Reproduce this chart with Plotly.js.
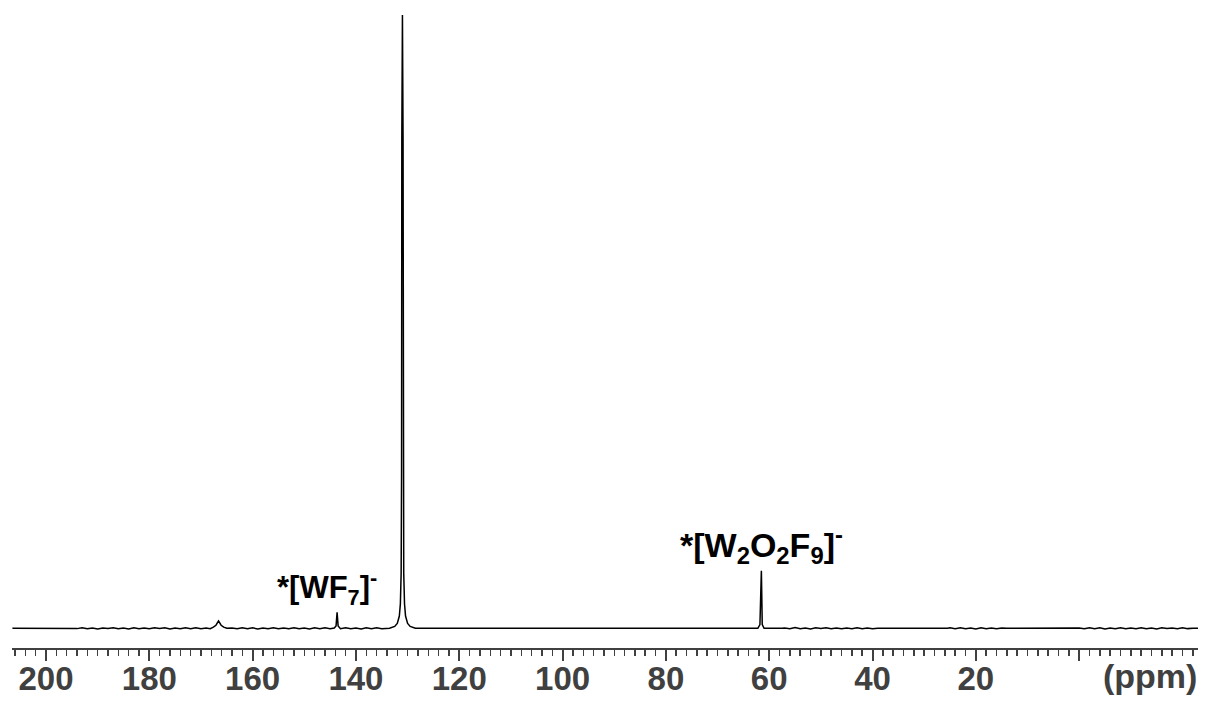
<!DOCTYPE html>
<html>
<head>
<meta charset="utf-8">
<script src="https://cdn.plot.ly/plotly-3.0.1.min.js"></script>
<style>html,body{margin:0;padding:0;background:#fff;}#chart{width:1207px;height:702px;}</style>
</head>
<body>
<div id="chart"></div>
<script>
// Chemical shift (ppm) and relative intensity
const ppm = [
  206.5, 196,
  195, 194, 193, 192, 191, 190, 189, 188, 187, 186, 185, 184, 183, 182, 181, 180,
  179, 178, 177, 176, 175, 174, 173, 172, 171, 170, 169, 168.2,
  167.6, 167.1, 166.6, 166.1, 165.6, 165.0,
  164, 163, 162, 161, 160, 159, 158, 157, 156, 155, 154, 153, 152, 151, 150, 149,
  148, 147, 146, 145, 144.2,
  143.85, 143.65, 143.45,
  143, 142, 141, 140, 139, 138, 137, 136, 135, 134, 133.5,
  132.5, 132.0, 131.6, 131.4, 131.25, 131.17, 131.12, 131.0, 130.88, 130.83, 130.75,
  130.6, 130.4, 130.0, 129.5, 128.5,
  62.2, 61.8, 61.62, 61.52, 61.35, 61.0,
  57.5, 57, 56, 55, 54, 53, 52, 51, 50, 49, 48, 47, 46, 45, 44, 43, 42, 41, 40, 39,
  25.5, 25, 24, 23, 22, 21, 20, 19, 18, 17, 16, 15, 14,
  1, 0, -1, -2, -3, -4, -5, -6, -7, -8, -9, -10, -11, -12, -13, -14, -15, -16, -17,
  -18, -19, -20, -21, -22, -23.5
];
const intensity = [
  0, 0,
  0.0007, -0.0005, 0.0009, -0.0007, 0.0004, -0.0009, 0.0006, -0.0004, 0.0010, -0.0006, 0.0005, -0.0010, 0.0008, -0.0005, 0.0006, -0.0008,
  0.0009, -0.0004, 0.0007, -0.0010, 0.0005, -0.0006, 0.0008, -0.0005, 0.0010, -0.0007, 0.0006, -0.0005,
  0.002, 0.005, 0.012, 0.005, 0.002, 0,
  0.0006, -0.0008, 0.0010, -0.0005, 0.0007, -0.0009, 0.0005, -0.0006, 0.0009, -0.0007, 0.0006, -0.0005, 0.0010, -0.0008, 0.0004, -0.0009,
  0.0007, -0.0006, 0.0008, -0.0005, 0.0004,
  0.004, 0.026, 0.004,
  -0.0006, 0.0009, -0.0007, 0.0006, -0.0010, 0.0008, -0.0005, 0.0007, -0.0006, 0.0004, 0,
  0.003, 0.008, 0.02, 0.04, 0.09, 0.25, 0.8, 1.0, 0.8, 0.25, 0.09,
  0.04, 0.02, 0.008, 0.003, 0,
  0, 0.006, 0.094, 0.094, 0.006, 0,
  0, 0.0006, -0.0005, 0.0012, -0.0007, 0.0005, -0.0009, 0.0007, -0.0004, 0.0010, -0.0006, 0.0005, -0.0008, 0.0006, -0.0005, 0.0009, -0.0007, 0.0004, -0.0006, 0,
  0, 0.0007, -0.0005, 0.0009, -0.0006, 0.0005, -0.0010, 0.0007, -0.0005, 0.0006, -0.0008, 0.0004, 0,
  0, 0.0006, -0.0007, 0.0010, -0.0005, 0.0008, -0.0009, 0.0005, -0.0006, 0.0009, -0.0007, 0.0006, -0.0005, 0.0010, -0.0008, 0.0005, -0.0009, 0.0007, -0.0004,
  0.0006, -0.0007, 0.0008, -0.0005, 0.0003, 0
];

// Axis tick labels
const tickValues = [200, 180, 160, 140, 120, 100, 80, 60, 40, 20, 0];
const tickLabels = ['200', '180', '160', '140', '120', '100', '80', '60', '40', '20', ''];

// Peak annotations
const labelTexts = ['*[WF<sub>7</sub>]<sup>-</sup>', '*[W<sub>2</sub>O<sub>2</sub>F<sub>9</sub>]<sup>-</sup>'];
const labelPpm = [145.6, 61.5];
const labelY = [0.093, 0.159];
const labelSizes = [31, 34];

const axisColor = '#404040';
const fontFamily = 'Liberation Sans, Arial, sans-serif';

const annotations = labelTexts.map((t, i) => ({
  text: '<b>' + t + '</b>',
  x: labelPpm[i], xref: 'x',
  y: labelY[i], yref: 'paper',
  showarrow: false,
  xanchor: 'center', yanchor: 'middle',
  font: {family: fontFamily, size: labelSizes[i], color: '#000'}
}));
annotations.push({
  text: '<b>(ppm)</b>',
  x: -13.7, xref: 'x',
  y: -0.043, yref: 'paper',
  showarrow: false,
  xanchor: 'center', yanchor: 'middle',
  font: {family: fontFamily, size: 34, color: axisColor}
});

const trace = {
  x: ppm, y: intensity,
  type: 'scatter', mode: 'lines',
  line: {color: '#000', width: 1.5},
  hoverinfo: 'skip'
};

const layout = {
  width: 1207, height: 702,
  margin: {l: 12, r: 9, t: 0, b: 54},
  paper_bgcolor: '#fff', plot_bgcolor: '#fff',
  showlegend: false,
  xaxis: {
    range: [206.58, -23.0],
    showgrid: false, zeroline: false,
    showline: true, linecolor: axisColor, linewidth: 2,
    ticks: 'outside', ticklen: 11, tickwidth: 2, tickcolor: axisColor,
    tickmode: 'array', tickvals: tickValues, ticktext: tickLabels,
    ticklabelstandoff: -11,
    tickfont: {family: fontFamily, size: 33, color: axisColor, weight: 'bold'},
    minor: {tickmode: 'linear', tick0: 0, dtick: 2, ticks: 'outside', ticklen: 6, tickwidth: 1.5, tickcolor: axisColor, showgrid: false}
  },
  yaxis: {
    range: [-0.0321, 1.0245],
    visible: false, showgrid: false, zeroline: false
  },
  annotations: annotations
};

Plotly.newPlot('chart', [trace], layout, {staticPlot: true, displayModeBar: false});
</script>
</body>
</html>
